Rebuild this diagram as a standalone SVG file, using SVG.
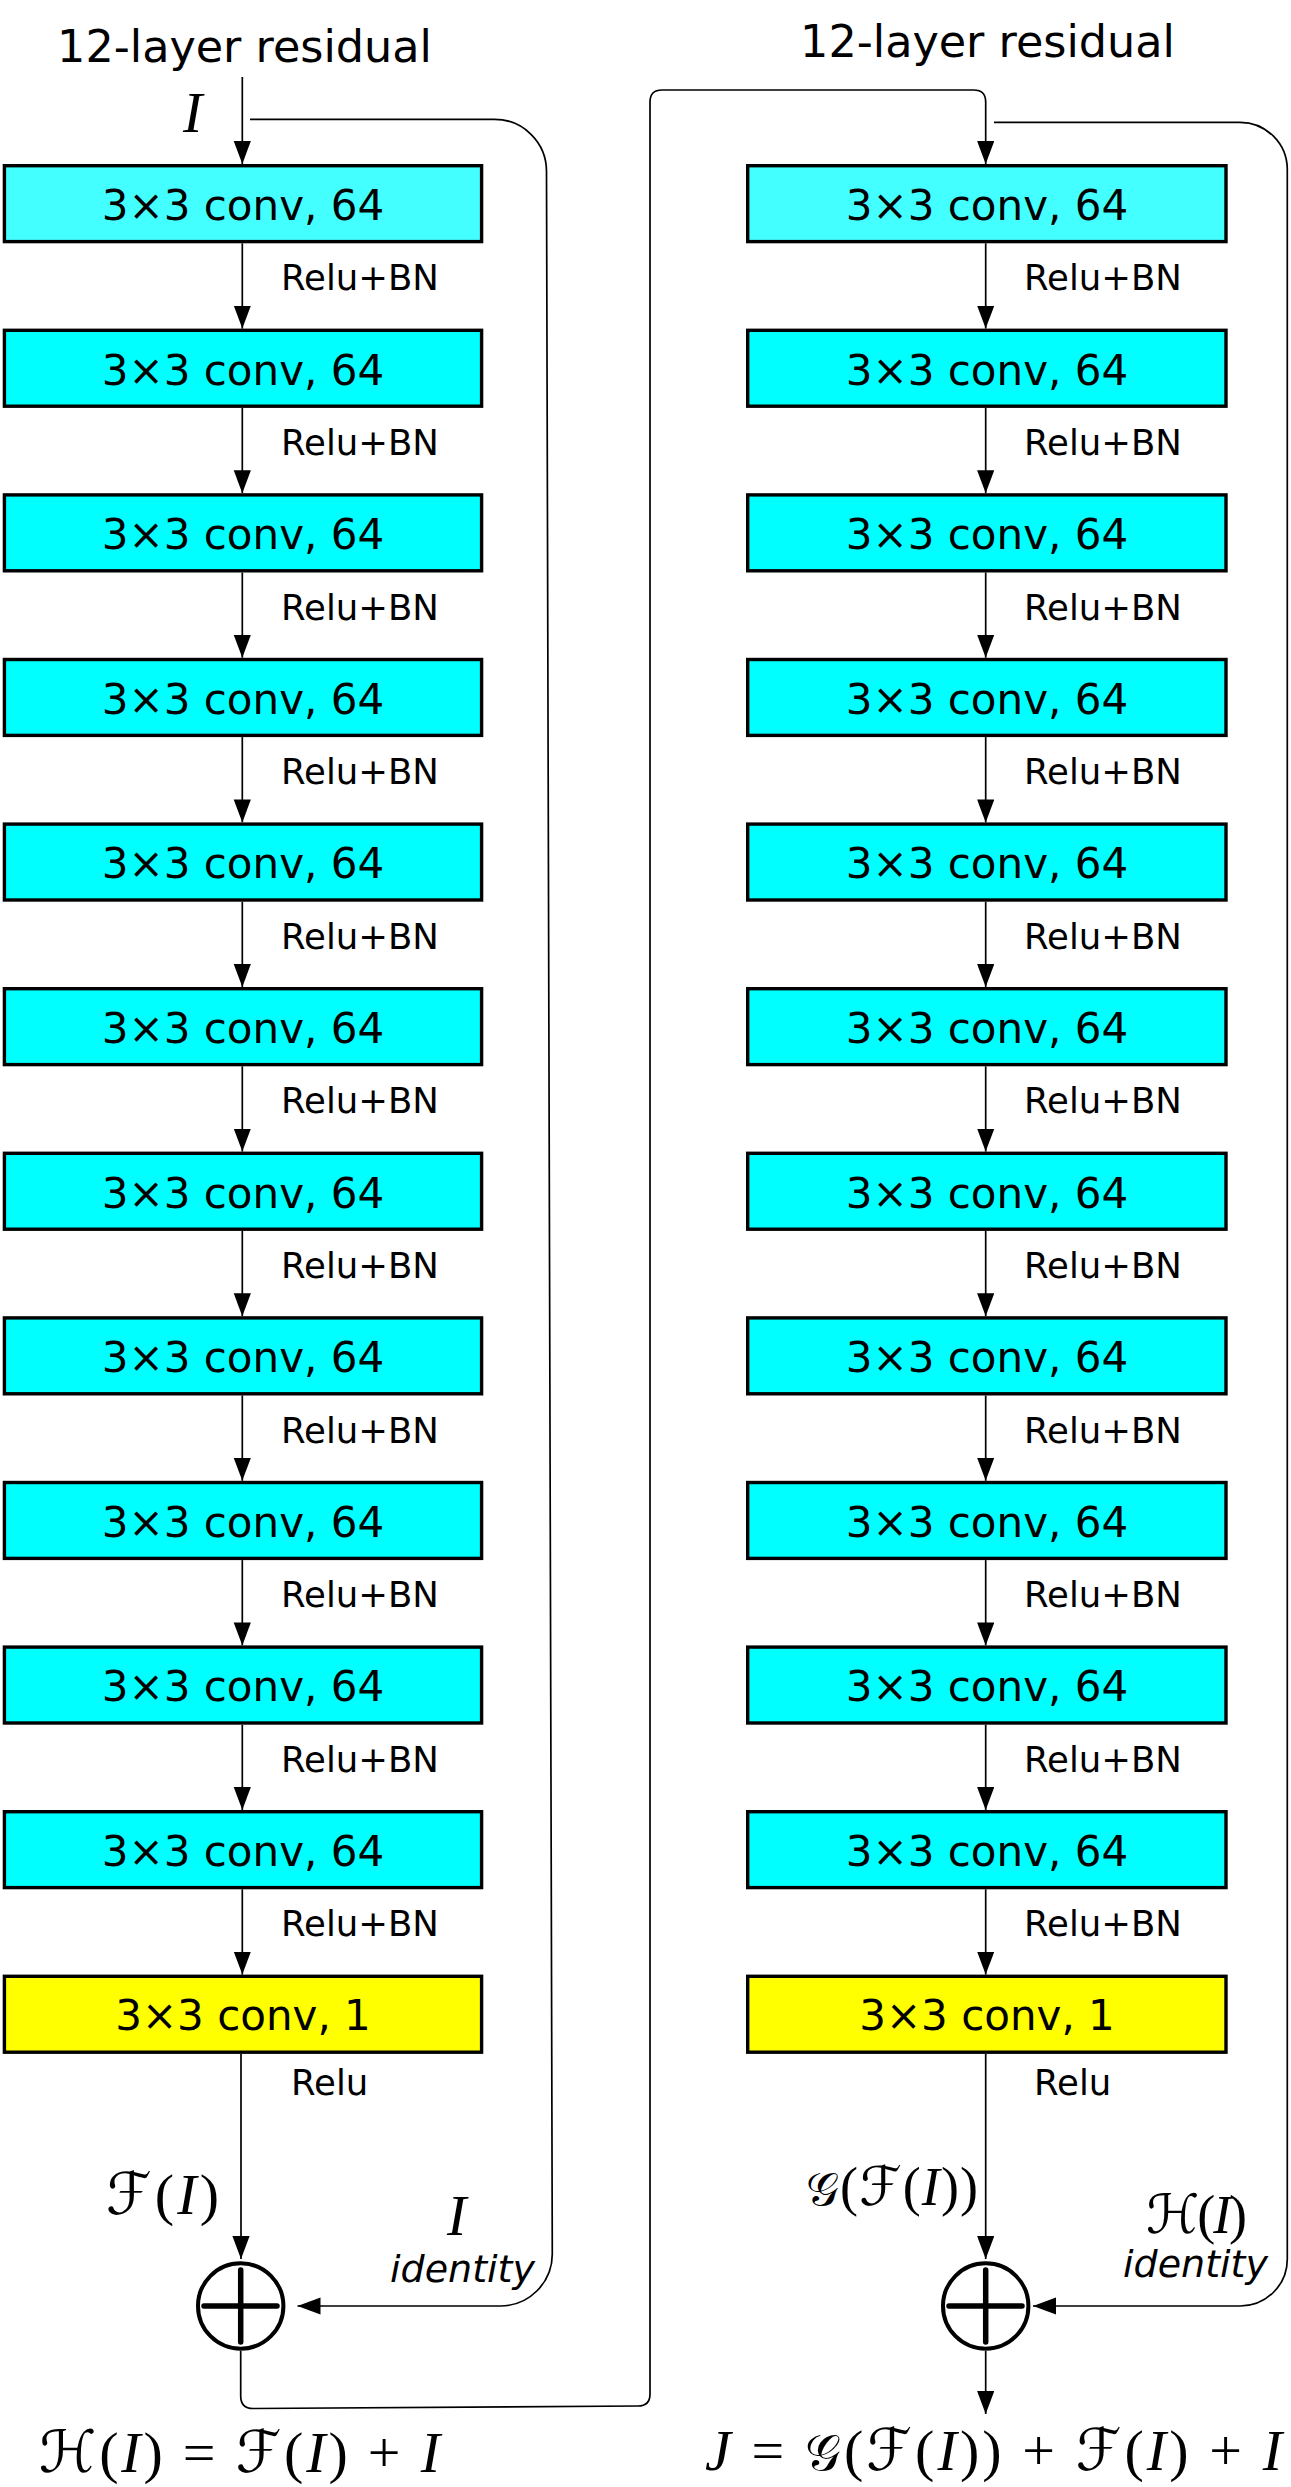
<svg xmlns="http://www.w3.org/2000/svg" width="1291" height="2487" viewBox="0 0 1291 2487">
<style>
.box{stroke:#000;stroke-width:3.4}
.cA{fill:#44FFFF}.cB{fill:#00FFFF}.cY{fill:#FFFF00}
.bt{font-family:"DejaVu Sans",sans-serif;font-size:42px;text-anchor:middle;fill:#000}
.lb{font-family:"DejaVu Sans",sans-serif;font-size:35.5px;fill:#000}
.tt{font-family:"DejaVu Sans",sans-serif;font-size:44.5px;text-anchor:middle;fill:#000}
.idt{font-family:"DejaVu Sans",sans-serif;font-style:italic;font-size:38px;fill:#000}
.m{font-family:"Liberation Serif","DejaVu Serif",serif;font-size:58px;fill:#000}
.it{font-style:italic}
.sc{font-family:"DejaVu Serif","DejaVu Sans","Noto Sans",serif;font-style:normal}
.sg{font-family:"DejaVu Serif","DejaVu Sans","Noto Sans",serif;font-style:normal;font-size:50px}
.ln{fill:none;stroke:#000;stroke-width:1.7}
.ar{marker-end:url(#ah)}
.sum{fill:none;stroke:#000;stroke-width:4}
.plus{stroke:#000;stroke-width:5.5;stroke-linecap:round}
</style>
<defs>
<marker id="ah" markerUnits="userSpaceOnUse" markerWidth="24" markerHeight="18" refX="23" refY="8.6" orient="auto" viewBox="0 0 24 18"><path d="M0,0 L23,8.6 L0,17.2 z" fill="#000"/></marker>
</defs>
<rect width="1291" height="2487" fill="#fff"/>
<text class="tt" x="244.5" y="62">12-layer residual</text>
<text class="tt" x="987.5" y="56.7">12-layer residual</text>

<g id="connectors">
<path class="ln ar" d="M242.3,77 V164"/>
<path class="ln ar" d="M242.3,243.3 V328.6"/>
<path class="ln ar" d="M242.3,407.9 V493.2"/>
<path class="ln ar" d="M242.3,572.5 V657.8"/>
<path class="ln ar" d="M242.3,737.1 V822.4"/>
<path class="ln ar" d="M242.3,901.7 V987"/>
<path class="ln ar" d="M242.3,1066.3 V1151.6"/>
<path class="ln ar" d="M242.3,1230.9 V1316.2"/>
<path class="ln ar" d="M242.3,1395.5 V1480.8"/>
<path class="ln ar" d="M242.3,1560.1 V1645.4"/>
<path class="ln ar" d="M242.3,1724.7 V1810"/>
<path class="ln ar" d="M242.3,1889.3 V1974.6"/>
<path class="ln ar" d="M241,2053.9 V2259"/>
<path class="ln ar" d="M985.7,243.3 V328.6"/>
<path class="ln ar" d="M985.7,407.9 V493.2"/>
<path class="ln ar" d="M985.7,572.5 V657.8"/>
<path class="ln ar" d="M985.7,737.1 V822.4"/>
<path class="ln ar" d="M985.7,901.7 V987"/>
<path class="ln ar" d="M985.7,1066.3 V1151.6"/>
<path class="ln ar" d="M985.7,1230.9 V1316.2"/>
<path class="ln ar" d="M985.7,1395.5 V1480.8"/>
<path class="ln ar" d="M985.7,1560.1 V1645.4"/>
<path class="ln ar" d="M985.7,1724.7 V1810"/>
<path class="ln ar" d="M985.7,1889.3 V1974.6"/>
<path class="ln ar" d="M985.7,2053.9 V2259"/>
<path class="ln ar" d="M985.7,2351 V2414"/>
<path class="ln ar" d="M250,119.3 H494.5 A52,52 0 0 1 546.5,171.3 L552.3,2254 A52,52 0 0 1 500.3,2306 H297.5"/>
<path class="ln ar" d="M240.7,2351 V2396 Q240.7,2408.5 253,2408.5 L638,2406 Q650,2406 650,2394 V102 Q650,90 662,90 H973.7 Q985.7,90 985.7,102 V164"/>
<path class="ln ar" d="M994,122.3 H1240 A47.3,47.3 0 0 1 1287.3,169.6 V2259 A47,47 0 0 1 1240.3,2306 H1033"/>
</g>

<g id="labels">
<text class="lb" x="281" y="290.3">Relu+BN</text>
<text class="lb" x="281" y="454.9">Relu+BN</text>
<text class="lb" x="281" y="619.5">Relu+BN</text>
<text class="lb" x="281" y="784.1">Relu+BN</text>
<text class="lb" x="281" y="948.7">Relu+BN</text>
<text class="lb" x="281" y="1113.3">Relu+BN</text>
<text class="lb" x="281" y="1277.9">Relu+BN</text>
<text class="lb" x="281" y="1442.5">Relu+BN</text>
<text class="lb" x="281" y="1607.1">Relu+BN</text>
<text class="lb" x="281" y="1771.7">Relu+BN</text>
<text class="lb" x="281" y="1936.3">Relu+BN</text>
<text class="lb" x="291" y="2095">Relu</text>
<text class="lb" x="1024" y="290.3">Relu+BN</text>
<text class="lb" x="1024" y="454.9">Relu+BN</text>
<text class="lb" x="1024" y="619.5">Relu+BN</text>
<text class="lb" x="1024" y="784.1">Relu+BN</text>
<text class="lb" x="1024" y="948.7">Relu+BN</text>
<text class="lb" x="1024" y="1113.3">Relu+BN</text>
<text class="lb" x="1024" y="1277.9">Relu+BN</text>
<text class="lb" x="1024" y="1442.5">Relu+BN</text>
<text class="lb" x="1024" y="1607.1">Relu+BN</text>
<text class="lb" x="1024" y="1771.7">Relu+BN</text>
<text class="lb" x="1024" y="1936.3">Relu+BN</text>
<text class="lb" x="1034" y="2095">Relu</text>
<text class="m it" x="183" y="132">I</text>
<text class="m it" x="447" y="2235">I</text>
<text class="idt" x="390" y="2282">identity</text>
<text class="idt" x="1123" y="2277">identity</text>
<text class="m" x="106" y="2214" textLength="113" lengthAdjust="spacing"><tspan class="sc">ℱ</tspan>(<tspan class="it">I</tspan>)</text>
<text class="m" x="806" y="2205" textLength="172" lengthAdjust="spacing" style="font-size:54px"><tspan class="sg" style="font-size:46px">𝒢</tspan>(<tspan class="sc">ℱ</tspan>(<tspan class="it">I</tspan>))</text>
<text class="m" x="1146" y="2233" textLength="101" lengthAdjust="spacing" style="font-size:54px"><tspan class="sc">ℋ</tspan>(<tspan class="it">I</tspan>)</text>
<text class="m" x="39" y="2472" textLength="401" lengthAdjust="spacing"><tspan class="sc">ℋ</tspan>(<tspan class="it">I</tspan>) = <tspan class="sc">ℱ</tspan>(<tspan class="it">I</tspan>) + <tspan class="it">I</tspan></text>
<text class="m" x="705" y="2470" textLength="577" lengthAdjust="spacing"><tspan class="it">J</tspan> = <tspan class="sg">𝒢</tspan>(<tspan class="sc">ℱ</tspan>(<tspan class="it">I</tspan>)) + <tspan class="sc">ℱ</tspan>(<tspan class="it">I</tspan>) + <tspan class="it">I</tspan></text>
</g>

<g id="L1"><rect class="box cA" x="4.4" y="165.7" width="477.2" height="75.9"/><text class="bt" x="243" y="220">3×3 conv, 64</text></g>
<g id="L2"><rect class="box cB" x="4.4" y="330.3" width="477.2" height="75.9"/><text class="bt" x="243" y="384.6">3×3 conv, 64</text></g>
<g id="L3"><rect class="box cB" x="4.4" y="494.9" width="477.2" height="75.9"/><text class="bt" x="243" y="549.2">3×3 conv, 64</text></g>
<g id="L4"><rect class="box cB" x="4.4" y="659.5" width="477.2" height="75.9"/><text class="bt" x="243" y="713.8">3×3 conv, 64</text></g>
<g id="L5"><rect class="box cB" x="4.4" y="824.1" width="477.2" height="75.9"/><text class="bt" x="243" y="878.4">3×3 conv, 64</text></g>
<g id="L6"><rect class="box cB" x="4.4" y="988.7" width="477.2" height="75.9"/><text class="bt" x="243" y="1043">3×3 conv, 64</text></g>
<g id="L7"><rect class="box cB" x="4.4" y="1153.3" width="477.2" height="75.9"/><text class="bt" x="243" y="1207.6">3×3 conv, 64</text></g>
<g id="L8"><rect class="box cB" x="4.4" y="1317.9" width="477.2" height="75.9"/><text class="bt" x="243" y="1372.2">3×3 conv, 64</text></g>
<g id="L9"><rect class="box cB" x="4.4" y="1482.5" width="477.2" height="75.9"/><text class="bt" x="243" y="1536.8">3×3 conv, 64</text></g>
<g id="L10"><rect class="box cB" x="4.4" y="1647.1" width="477.2" height="75.9"/><text class="bt" x="243" y="1701.4">3×3 conv, 64</text></g>
<g id="L11"><rect class="box cB" x="4.4" y="1811.7" width="477.2" height="75.9"/><text class="bt" x="243" y="1866">3×3 conv, 64</text></g>
<g id="L12"><rect class="box cY" x="4.4" y="1976.3" width="477.2" height="75.9"/><text class="bt" x="243" y="2029.6">3×3 conv, 1</text></g>

<g id="R1"><rect class="box cA" x="747.7" y="165.7" width="478.3" height="75.9"/><text class="bt" x="987" y="220">3×3 conv, 64</text></g>
<g id="R2"><rect class="box cB" x="747.7" y="330.3" width="478.3" height="75.9"/><text class="bt" x="987" y="384.6">3×3 conv, 64</text></g>
<g id="R3"><rect class="box cB" x="747.7" y="494.9" width="478.3" height="75.9"/><text class="bt" x="987" y="549.2">3×3 conv, 64</text></g>
<g id="R4"><rect class="box cB" x="747.7" y="659.5" width="478.3" height="75.9"/><text class="bt" x="987" y="713.8">3×3 conv, 64</text></g>
<g id="R5"><rect class="box cB" x="747.7" y="824.1" width="478.3" height="75.9"/><text class="bt" x="987" y="878.4">3×3 conv, 64</text></g>
<g id="R6"><rect class="box cB" x="747.7" y="988.7" width="478.3" height="75.9"/><text class="bt" x="987" y="1043">3×3 conv, 64</text></g>
<g id="R7"><rect class="box cB" x="747.7" y="1153.3" width="478.3" height="75.9"/><text class="bt" x="987" y="1207.6">3×3 conv, 64</text></g>
<g id="R8"><rect class="box cB" x="747.7" y="1317.9" width="478.3" height="75.9"/><text class="bt" x="987" y="1372.2">3×3 conv, 64</text></g>
<g id="R9"><rect class="box cB" x="747.7" y="1482.5" width="478.3" height="75.9"/><text class="bt" x="987" y="1536.8">3×3 conv, 64</text></g>
<g id="R10"><rect class="box cB" x="747.7" y="1647.1" width="478.3" height="75.9"/><text class="bt" x="987" y="1701.4">3×3 conv, 64</text></g>
<g id="R11"><rect class="box cB" x="747.7" y="1811.7" width="478.3" height="75.9"/><text class="bt" x="987" y="1866">3×3 conv, 64</text></g>
<g id="R12"><rect class="box cY" x="747.7" y="1976.3" width="478.3" height="75.9"/><text class="bt" x="987" y="2029.6">3×3 conv, 1</text></g>

<g id="Lsum"><circle class="sum" cx="240.7" cy="2306" r="42.7"/><path class="plus" d="M204,2306 H277 M240.7,2270 V2342"/></g>
<g id="Rsum"><circle class="sum" cx="985.7" cy="2306" r="42.7"/><path class="plus" d="M949,2306 H1022 M985.7,2270 V2342"/></g>
</svg>
